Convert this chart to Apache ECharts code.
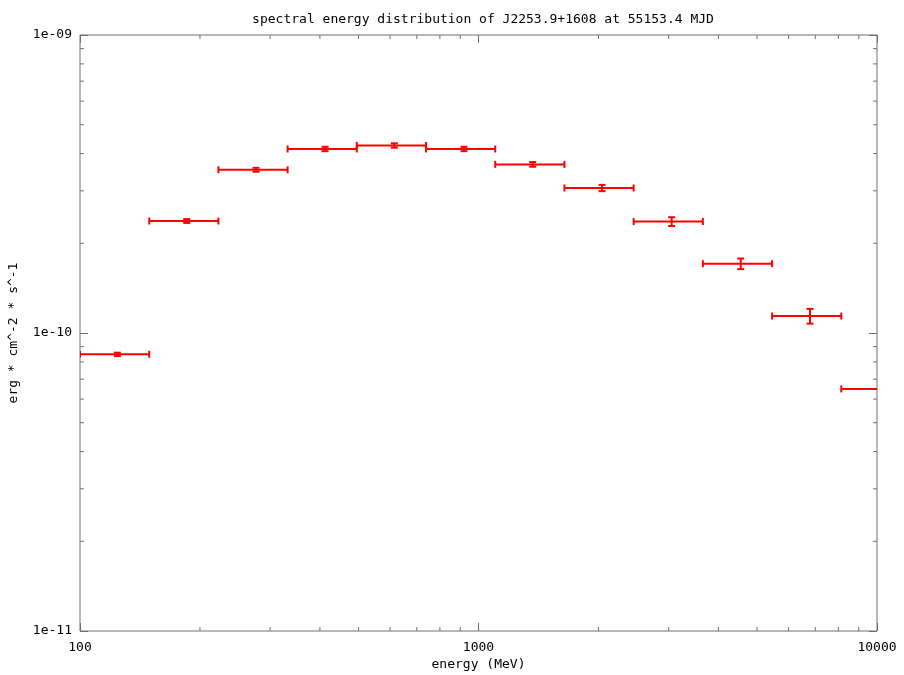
<!DOCTYPE html>
<html>
<head>
<meta charset="utf-8">
<script src="https://cdn.jsdelivr.net/npm/echarts@6/dist/echarts.min.js"></script>
<style>html,body{margin:0;padding:0;background:#fff}#c{width:904px;height:675px}</style>
</head>
<body>
<div id="c"></div>
<script>
const titleText = 'spectral energy distribution of J2253.9+1608 at 55153.4 MJD';
const xName = 'energy (MeV)';
const yName = 'erg * cm^-2 * s^-1';
const energy = [124.1, 185.3, 276.5, 412, 614.8, 919.6, 1368, 2042, 3053, 4550, 6791, 10250];
const energyLow = [100, 149.2, 222.5, 331.9, 495, 738.5, 1101.6, 1643, 2451, 3656, 5454, 8135];
const energyHigh = [149.2, 222.5, 331.9, 495, 738.5, 1101.6, 1643, 2451, 3656, 5454, 8135, 12135];
const flux = [8.48e-11, 2.376e-10, 3.53e-10, 4.145e-10, 4.26e-10, 4.145e-10, 3.68e-10, 3.066e-10, 2.366e-10, 1.708e-10, 1.14e-10, 6.49e-11];
const fluxErr = [1.1e-12, 3.5e-12, 5.3e-12, 7e-12, 7.2e-12, 7e-12, 6.6e-12, 7.4e-12, 8e-12, 7e-12, 6.5e-12, 4e-12];
const xMinorTicks = [200, 300, 400, 500, 600, 700, 800, 900, 2000, 3000, 4000, 5000, 6000, 7000, 8000, 9000];
const yMinorTicks = [2e-11, 3e-11, 4e-11, 5e-11, 6e-11, 7e-11, 8e-11, 9e-11, 2e-10, 3e-10, 4e-10, 5e-10, 6e-10, 7e-10, 8e-10, 9e-10];
const xTickLabels = {100: '100', 1000: '1000', 10000: '10000'};
const yTickLabels = {'-11': '1e-11', '-10': '1e-10', '-9': '1e-09'};

const FONT = 'DejaVu Sans Mono';
const AXIS_COLOR = '#707070';
const RED = '#ff0000';

const chart = echarts.init(document.getElementById('c'), null, {renderer: 'canvas'});

const errData = energy.map((e, i) => [e, flux[i], energyLow[i], energyHigh[i], flux[i] - fluxErr[i], flux[i] + fluxErr[i]]);

function yLabel(v) {
  const k = Math.round(Math.log10(v));
  return yTickLabels[String(k)] || '';
}

const baseX = {
  type: 'log', logBase: 10, min: 100, max: 10000,
  axisLine: {show: false},
  axisTick: {show: true, inside: true, length: 8, lineStyle: {color: AXIS_COLOR, width: 1}},
  splitLine: {show: false},
  minorTick: {show: false}
};
const baseY = {
  type: 'log', logBase: 10, min: 1e-11, max: 1e-9,
  axisLine: {show: false},
  axisTick: {show: true, inside: true, length: 8, lineStyle: {color: AXIS_COLOR, width: 1}},
  splitLine: {show: false},
  minorTick: {show: false}
};

const option = {
  animation: false,
  backgroundColor: '#fff',
  title: {
    text: titleText, left: 478, top: 8, textAlign: 'center',
    textStyle: {fontFamily: FONT, fontSize: 13, fontWeight: 'normal', color: '#000'}
  },
  grid: {left: 80, right: 27, top: 35, bottom: 44, outerBoundsMode: 'none', containLabel: false,
    show: true, borderColor: AXIS_COLOR, borderWidth: 1, backgroundColor: 'transparent'},
  xAxis: [
    Object.assign({}, baseX, {
      position: 'bottom', name: xName, nameLocation: 'middle', nameGap: 27, nameMoveOverlap: false,
      nameTextStyle: {fontFamily: FONT, fontSize: 13, color: '#000'},
      axisLabel: {show: true, margin: 10, fontFamily: FONT, fontSize: 13, color: '#000',
        formatter: v => xTickLabels[Math.round(v)] || ''}
    }),
    Object.assign({}, baseX, {position: 'top', axisLabel: {show: false}})
  ],
  yAxis: [
    Object.assign({}, baseY, {
      position: 'left', name: yName, nameLocation: 'middle', nameGap: 60, nameRotate: 90, nameMoveOverlap: false,
      nameTextStyle: {fontFamily: FONT, fontSize: 13, color: '#000'},
      axisLabel: {show: true, margin: 8, fontFamily: FONT, fontSize: 13, color: '#000', formatter: yLabel}
    }),
    Object.assign({}, baseY, {position: 'right', axisLabel: {show: false}})
  ],
  series: [
    {
      type: 'custom', name: 'xminor', xAxisIndex: 0, yAxisIndex: 0, silent: true, clip: false,
      data: xMinorTicks.map(v => [v, 1e-10]),
      encode: {x: 0, y: 1},
      renderItem: function (params, api) {
        const cs = params.coordSys;
        const px = api.coord([api.value(0), 1e-10])[0];
        const st = {stroke: AXIS_COLOR, lineWidth: 1};
        return {type: 'group', children: [
          {type: 'line', shape: {x1: px, y1: cs.y + cs.height, x2: px, y2: cs.y + cs.height - 4}, style: st},
          {type: 'line', shape: {x1: px, y1: cs.y, x2: px, y2: cs.y + 4}, style: st}
        ]};
      }
    },
    {
      type: 'custom', name: 'yminor', xAxisIndex: 0, yAxisIndex: 0, silent: true, clip: false,
      data: yMinorTicks.map(v => [1000, v]),
      encode: {x: 0, y: 1},
      renderItem: function (params, api) {
        const cs = params.coordSys;
        const py = api.coord([1000, api.value(1)])[1];
        const st = {stroke: AXIS_COLOR, lineWidth: 1};
        return {type: 'group', children: [
          {type: 'line', shape: {x1: cs.x, y1: py, x2: cs.x + 4, y2: py}, style: st},
          {type: 'line', shape: {x1: cs.x + cs.width, y1: py, x2: cs.x + cs.width - 4, y2: py}, style: st}
        ]};
      }
    },
    {
      type: 'custom', name: 'sed', xAxisIndex: 0, yAxisIndex: 0, clip: true,
      data: errData,
      encode: {x: 0, y: 1},
      renderItem: function (params, api) {
        const c = api.coord([api.value(0), api.value(1)]);
        const xl = api.coord([api.value(2), api.value(1)])[0];
        const xh = api.coord([api.value(3), api.value(1)])[0];
        const yl = api.coord([api.value(0), api.value(4)])[1];
        const yh = api.coord([api.value(0), api.value(5)])[1];
        const st = {stroke: RED, lineWidth: 2};
        const cap = 3.5;
        return {type: 'group', children: [
          {type: 'line', shape: {x1: xl, y1: c[1], x2: xh, y2: c[1]}, style: st},
          {type: 'line', shape: {x1: xl, y1: c[1] - cap, x2: xl, y2: c[1] + cap}, style: st},
          {type: 'line', shape: {x1: xh, y1: c[1] - cap, x2: xh, y2: c[1] + cap}, style: st},
          {type: 'line', shape: {x1: c[0], y1: yl, x2: c[0], y2: yh}, style: st},
          {type: 'line', shape: {x1: c[0] - cap, y1: yl, x2: c[0] + cap, y2: yl}, style: st},
          {type: 'line', shape: {x1: c[0] - cap, y1: yh, x2: c[0] + cap, y2: yh}, style: st}
        ]};
      }
    }
  ]
};
chart.setOption(option);
</script>
</body>
</html>
